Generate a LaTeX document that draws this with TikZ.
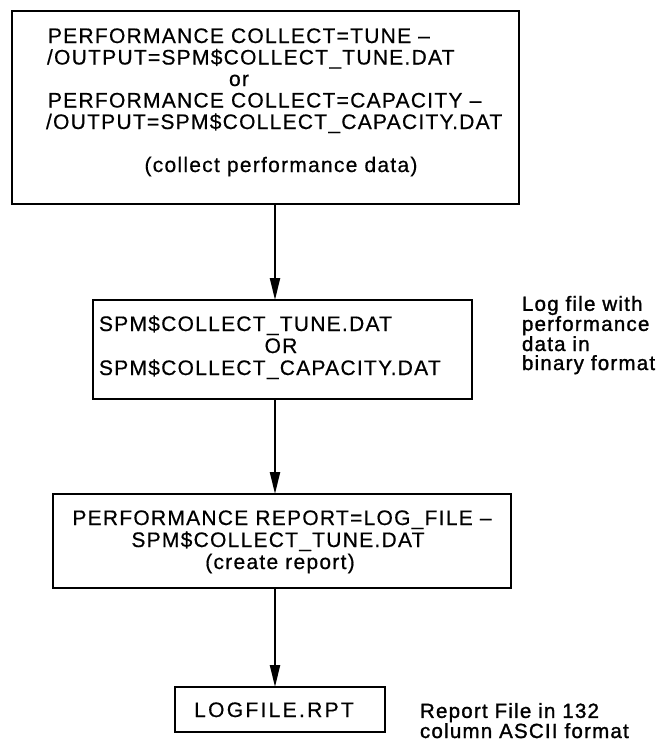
\documentclass[tikz,border=0pt]{standalone}
\usepackage{fontspec}
\setmainfont{Liberation Sans}[LetterSpace=6,FakeBold=0.5]
\newfontfamily\notefont{Liberation Sans}[LetterSpace=6,FakeBold=1.3]
\usetikzlibrary{arrows.meta}

\begin{document}
\begin{tikzpicture}[x=1pt,y=-1pt,
  box/.style={draw, line width=2.6pt, rectangle, inner sep=0pt, outer sep=0pt},
  txt/.style={inner sep=0pt, outer sep=0pt, font=\fontsize{21}{22}\selectfont},
  note/.style={inner sep=0pt, outer sep=0pt, align=left, anchor=base west,
               font=\fontsize{20.5}{19}\notefont},
  flow/.style={line width=2.3pt, -{Triangle[length=22pt,width=10pt]}}]

% page frame
\fill[white] (0,0) rectangle (667,745);
\useasboundingbox (0,0) rectangle (667,745);

% the vertical line all connectors follow
\coordinate (spine) at (275,0);

% boxes
\node[box, minimum width=507pt, minimum height=193pt] (collect) at (265.5,107.5) {};
\node[box, minimum width=379pt, minimum height=99pt]  (logfile) at (282.5,349.5) {};
\node[box, minimum width=458pt, minimum height=94pt]  (report)  at (282,541) {};
\node[box, minimum width=210pt, minimum height=45pt]  (rpt)     at (280,709.5) {};

% text of the collect step
\node[txt, anchor=base west] (c1) at (48,43)    {PERFORMANCE COLLECT=TUNE \textendash};
\node[txt, anchor=base west] (c2) at (47,64.5)  {/OUTPUT=SPM\$COLLECT\_TUNE.DAT};
\node[txt, anchor=base]      (c3) at (239,86)   {or};
\node[txt, anchor=base west] (c4) at (48,107.5) {PERFORMANCE COLLECT=CAPACITY \textendash};
\node[txt, anchor=base west] (c5) at (46,129)   {/OUTPUT=SPM\$COLLECT\_CAPACITY.DAT};
\node[txt, anchor=base]      (c6) at (281,172)  {(collect performance data)};

% text of the log file
\node[txt, anchor=base west] (l1) at (99,331)  {SPM\$COLLECT\_TUNE.DAT};
\node[txt, anchor=base]      (l2) at (281,353) {OR};
\node[txt, anchor=base west] (l3) at (99,375)  {SPM\$COLLECT\_CAPACITY.DAT};

% text of the report step
\node[txt, anchor=base] (r1) at (282,525) {PERFORMANCE REPORT=LOG\_FILE \textendash};
\node[txt, anchor=base] (r2) at (278,547) {SPM\$COLLECT\_TUNE.DAT};
\node[txt, anchor=base] (r3) at (280,569) {(create report)};

% text of the report file
\node[txt, anchor=base] (p1) at (274,717) {\addfontfeature{LetterSpace=11}LOGFILE.RPT};

% side notes (the base anchor sits on the last line)
\node[note] (n1) at (522,370) {Log file with\\performance\\data in\\binary format};
\node[note] (n2) at (420,738) {Report File in 132\\column ASCII format};

% connectors
\draw[flow] (collect.south -| spine) -- (logfile.north -| spine);
\draw[flow] (logfile.south -| spine) -- (report.north -| spine);
\draw[flow] (report.south -| spine)  -- (rpt.north -| spine);
\end{tikzpicture}
\end{document}
